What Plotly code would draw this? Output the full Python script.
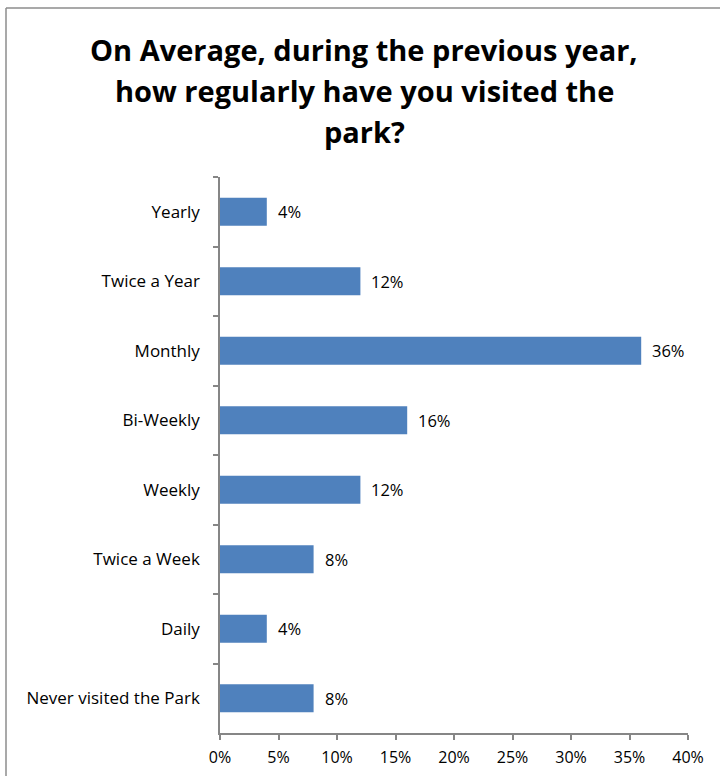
import plotly.graph_objects as go

# Survey responses: visit frequency and share of respondents
categories = ["Yearly", "Twice a Year", "Monthly", "Bi-Weekly", "Weekly",
              "Twice a Week", "Daily", "Never visited the Park"]
shares = [0.04, 0.12, 0.36, 0.16, 0.12, 0.08, 0.04, 0.08]
title_lines = ["On Average, during the previous year,",
               "how regularly have you visited the",
               "park?"]

W, H = 720, 776
L, R, T, B = 220, 32, 177, 43
plot_h = H - T - B
plot_w = W - L - R

FONT = "'Open Sans', Lato, sans-serif"
BAR = "#4F81BD"
AXIS = "#868686"


def px_to_paper_x(px):
    return (px - L) / plot_w


def px_to_paper_y(py):
    return (H - B - py) / plot_h


fig = go.Figure(go.Bar(
    x=shares,
    y=categories,
    orientation="h",
    width=0.4,
    marker=dict(color=BAR, line=dict(width=0)),
    hoverinfo="skip",
))

# value labels to the right of each bar
for cat, v in zip(categories, shares):
    fig.add_annotation(
        x=v, y=cat, xref="x", yref="y",
        text=f"{v:.0%}", showarrow=False,
        xanchor="left", xshift=9,
        font=dict(family=FONT, size=16.5, color="#000000"),
    )

# three-line heading
for i, line in enumerate(title_lines):
    y_px = 49 + i * 41
    fig.add_annotation(
        x=px_to_paper_x(364), y=px_to_paper_y(y_px),
        xref="paper", yref="paper",
        text=f"<b>{line}</b>", showarrow=False,
        xanchor="center", yanchor="middle",
        font=dict(family=FONT, size=29, color="#000000"),
    )

# chart frame (left and top edges)
fig.add_shape(type="line", xref="paper", yref="paper",
              x0=px_to_paper_x(6), x1=px_to_paper_x(W + 5),
              y0=px_to_paper_y(8), y1=px_to_paper_y(8),
              line=dict(color="#8c8c8c", width=1.5))
fig.add_shape(type="line", xref="paper", yref="paper",
              x0=px_to_paper_x(6), x1=px_to_paper_x(6),
              y0=px_to_paper_y(8), y1=px_to_paper_y(H + 5),
              line=dict(color="#8c8c8c", width=1.5))

fig.update_layout(
    width=W, height=H,
    margin=dict(l=L, r=R, t=T, b=B, pad=0, autoexpand=False),
    paper_bgcolor="white",
    plot_bgcolor="white",
    showlegend=False,
    font=dict(family=FONT, size=16, color="#000000"),
)

fig.update_xaxes(
    range=[0, 0.40],
    dtick=0.05,
    tick0=0,
    tickformat=".0%",
    showgrid=False,
    zeroline=False,
    showline=True,
    linecolor=AXIS,
    linewidth=1.5,
    ticks="outside",
    ticklen=5,
    tickcolor=AXIS,
    tickwidth=1.5,
    ticklabelstandoff=4,
    tickfont=dict(family=FONT, size=16, color="#000000"),
    automargin=False,
    fixedrange=True,
)

fig.update_yaxes(
    categoryorder="array",
    categoryarray=categories,
    autorange="reversed",
    showgrid=False,
    zeroline=False,
    showline=True,
    linecolor=AXIS,
    linewidth=1.5,
    ticks="outside",
    tickson="boundaries",
    ticklen=5,
    tickcolor=AXIS,
    tickwidth=1.5,
    ticklabelstandoff=15,
    tickfont=dict(family=FONT, size=17, color="#000000"),
    automargin=False,
    fixedrange=True,
)

fig.write_html("out.html", config={"displayModeBar": False})
